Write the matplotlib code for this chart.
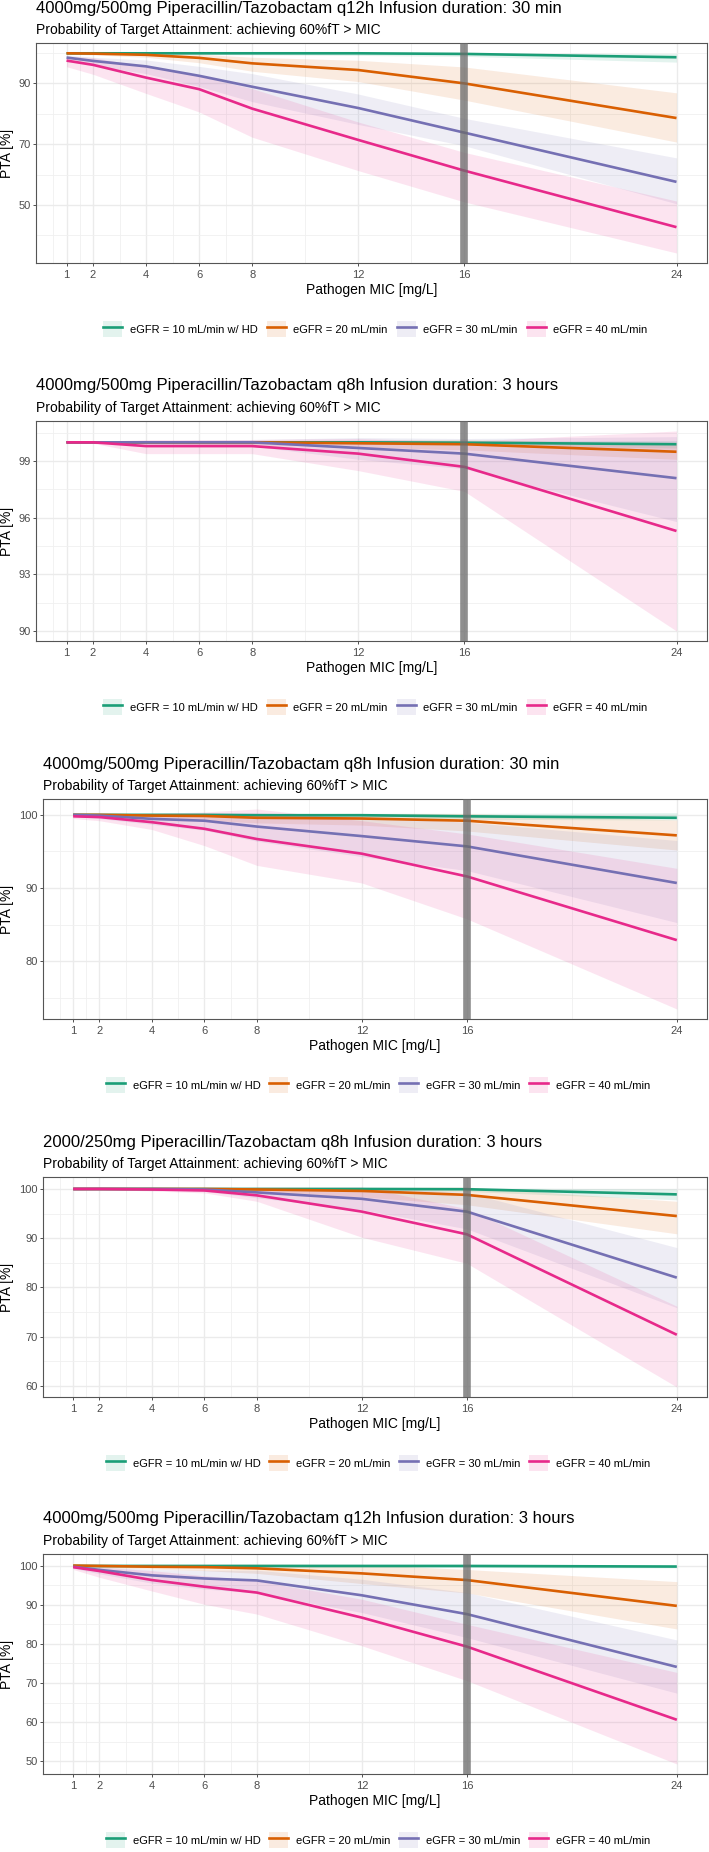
import numpy as np
import matplotlib.pyplot as plt
from matplotlib.patches import Patch
from matplotlib.lines import Line2D

plt.rcParams['font.family'] = ['Liberation Sans', 'DejaVu Sans']

#### PTA of piperacillin/tazobactam regimens by eGFR #####

mic = [1, 2, 4, 6, 8, 12, 16, 24]
breakpoint_mic = 16
labels = ['eGFR = 10 mL/min w/ HD', 'eGFR = 20 mL/min', 'eGFR = 30 mL/min', 'eGFR = 40 mL/min']
colors = ['#1B9E77', '#D95F02', '#7570B3', '#E7298A']
subtitle = 'Probability of Target Attainment: achieving 60%fT > MIC'

titles = ['4000mg/500mg Piperacillin/Tazobactam q12h Infusion duration: 30 min',
          '4000mg/500mg Piperacillin/Tazobactam q8h Infusion duration: 3 hours',
          '4000mg/500mg Piperacillin/Tazobactam q8h Infusion duration: 30 min',
          '2000/250mg Piperacillin/Tazobactam q8h Infusion duration: 3 hours',
          '4000mg/500mg Piperacillin/Tazobactam q12h Infusion duration: 3 hours']

# panel 1: q12h 30 min
p1_pta = [[99.9, 99.9, 99.9, 99.9, 99.9, 99.9, 99.7, 98.6],
          [99.9, 99.8, 99.4, 98.4, 96.6, 94.4, 90.0, 78.6],
          [98.5, 97.4, 95.6, 92.5, 88.9, 81.9, 73.8, 57.6],
          [97.5, 96.1, 91.9, 88.1, 81.7, 71.4, 61.3, 42.7]]
p1_low = [[99.6, 99.6, 99.6, 99.5, 99.4, 99.2, 98.9, 97.0],
          [99.6, 99.4, 98.6, 96.8, 94.0, 90.6, 84.5, 70.7],
          [97.6, 96.0, 93.2, 89.0, 84.0, 76.5, 69.5, 50.4],
          [95.5, 93.0, 86.7, 80.6, 72.3, 61.3, 51.0, 34.2]]
p1_high = [[100, 100, 100, 100, 100, 100, 100, 99.8],
           [100, 100, 99.9, 99.6, 98.6, 97.6, 95.4, 86.9],
           [99.3, 98.6, 97.7, 95.6, 93.2, 86.5, 78.5, 65.5],
           [99.0, 98.5, 95.5, 92.5, 88.3, 77.3, 67.3, 51.3]]

# panel 2: q8h 3 hours
p2_pta = [[100, 100, 100, 100, 100, 100, 99.98, 99.9],
          [100, 100, 100, 100, 100, 99.95, 99.9, 99.5],
          [100, 100, 100, 100, 100, 99.7, 99.4, 98.1],
          [100, 100, 99.8, 99.8, 99.8, 99.4, 98.7, 95.3]]
p2_low = [[99.98, 99.98, 99.97, 99.96, 99.95, 99.9, 99.85, 99.7],
          [99.98, 99.97, 99.95, 99.9, 99.88, 99.75, 99.6, 99.1],
          [99.98, 99.96, 99.9, 99.85, 99.8, 99.1, 98.6, 95.8],
          [99.97, 99.95, 99.4, 99.4, 99.4, 98.5, 97.4, 90.0]]
p2_high = [[100, 100, 100.02, 100.03, 100.04, 100.05, 100.08, 100.1],
           [100, 100.02, 100.04, 100.06, 100.08, 100.12, 100.15, 99.9],
           [100, 100.04, 100.08, 100.12, 100.15, 100.25, 100.2, 100.3],
           [100.03, 100.05, 100.15, 100.15, 100.15, 100.2, 100.05, 100.6]]

# panel 3: q8h 30 min
p3_pta = [[100, 100, 100, 100, 99.95, 99.95, 99.8, 99.6],
          [100, 100, 99.9, 99.85, 99.6, 99.5, 99.2, 97.2],
          [100, 99.9, 99.45, 99.2, 98.4, 97.1, 95.7, 90.7],
          [99.8, 99.7, 99.0, 98.1, 96.7, 94.7, 91.6, 82.9]]
p3_low = [[99.9, 99.9, 99.9, 99.85, 99.7, 99.6, 99.4, 99.3],
          [99.9, 99.8, 99.6, 99.3, 98.9, 98.6, 97.8, 95.2],
          [99.8, 99.5, 98.7, 97.9, 96.4, 94.3, 92.4, 85.3],
          [99.5, 99.2, 98.0, 95.8, 93.1, 90.7, 85.8, 73.5]]
p3_high = [[100.05, 100.05, 100.1, 100.1, 100.15, 100.2, 100.2, 100.3],
           [100.05, 100.1, 100.1, 100.15, 100.2, 100.2, 100.2, 99.3],
           [100.1, 100.15, 100.2, 100.3, 100.3, 99.7, 99.0, 96.5],
           [100.05, 100.1, 100.2, 100.4, 100.8, 99.2, 97.4, 92.7]]

# panel 4: 2000/250 q8h 3 hours
p4_pta = [[100, 100, 100, 100, 100, 100, 99.95, 98.9],
          [100, 100, 100, 100, 99.9, 99.6, 98.8, 94.5],
          [100, 100, 100, 99.9, 99.3, 98.0, 95.4, 82.0],
          [100, 100, 99.9, 99.7, 98.7, 95.4, 90.8, 70.4]]
p4_low = [[99.95, 99.95, 99.9, 99.9, 99.85, 99.7, 99.5, 97.8],
          [99.95, 99.9, 99.8, 99.6, 99.3, 98.4, 96.8, 90.9],
          [99.95, 99.9, 99.8, 99.5, 98.2, 95.8, 91.9, 75.9],
          [99.95, 99.9, 99.6, 99.2, 97.5, 90.2, 84.9, 59.8]]
p4_high = [[100.05, 100.05, 100.05, 100.1, 100.1, 100.15, 100.2, 100.0],
           [100.05, 100.05, 100.1, 100.2, 100.2, 100.3, 100.4, 97.5],
           [100.05, 100.05, 100.1, 100.2, 100.3, 100.3, 99.3, 88.1],
           [100.05, 100.1, 100.2, 100.3, 100.4, 100.4, 96.0, 76.2]]

# panel 5: q12h 3 hours
p5_pta = [[99.9, 99.9, 99.9, 99.9, 99.9, 99.9, 99.9, 99.75],
          [100, 99.9, 99.7, 99.6, 99.3, 98.0, 96.3, 89.7],
          [99.7, 98.9, 97.5, 96.7, 96.2, 92.4, 87.6, 74.1],
          [99.6, 98.6, 96.3, 94.6, 93.1, 86.7, 79.3, 60.6]]
p5_low = [[99.7, 99.7, 99.7, 99.7, 99.6, 99.6, 99.5, 99.4],
          [99.8, 99.5, 99.1, 98.7, 98.0, 95.4, 93.0, 83.8],
          [99.3, 97.9, 95.5, 94.0, 93.0, 88.0, 81.6, 67.4],
          [99.0, 97.0, 93.5, 90.1, 87.6, 79.5, 70.6, 49.3]]
p5_high = [[100, 100, 100, 100.05, 100.05, 100.05, 100.05, 100.0],
           [100.1, 100.2, 100.2, 100.3, 100.4, 100.3, 99.0, 95.9],
           [100.0, 99.6, 99.0, 98.8, 98.8, 96.5, 93.1, 81.0],
           [100.0, 99.6, 98.7, 97.4, 96.1, 91.4, 85.0, 72.7]]

y_major = [[50, 70, 90], [90, 93, 96, 99], [80, 90, 100],
           [60, 70, 80, 90, 100], [50, 60, 70, 80, 90, 100]]
y_minor = [[40, 60, 80, 100], [91.5, 94.5, 97.5, 100.5], [75, 85, 95],
           [65, 75, 85, 95], [55, 65, 75, 85, 95]]
x_minor = [0.5, 1.5, 3, 5, 7, 10, 14, 20]

panels = [(p1_pta, p1_low, p1_high), (p2_pta, p2_low, p2_high), (p3_pta, p3_low, p3_high),
          (p4_pta, p4_low, p4_high), (p5_pta, p5_low, p5_high)]

##### figure ##########

W, H = 709, 1852
fig = plt.figure(figsize=(W / 100, H / 100), dpi=100)

def box(left, top, width, height):
    return [left / W, 1 - (top + height) / H, width / W, height / H]

tops = [43, 421, 799, 1177, 1554]
lefts = [36, 36, 43, 43, 43]
right = 707
ph = 220

def expand(lo, hi):
    d = (hi - lo) * 0.05
    return lo - d, hi + d

for k, (pta, low, high) in enumerate(panels):
    left = lefts[k]
    top = tops[k]
    ax = fig.add_axes(box(left, top, right - left, ph))

    for i in range(4):
        ax.fill_between(mic, low[i], high[i], color=colors[i], alpha=0.12, lw=0, zorder=2)
    for i in range(4):
        ax.plot(mic, pta[i], color=colors[i], lw=1.9, solid_capstyle='butt', zorder=3)
    ax.axvline(breakpoint_mic, color='#6a6a6a', alpha=0.75, lw=5.5, zorder=4)

    ax.set_xlim(*expand(min(mic), max(mic)))
    ax.set_ylim(*expand(np.min(low), np.max(high)))

    ax.set_xticks(mic)
    ax.set_xticks(x_minor, minor=True)
    ax.set_yticks(y_major[k])
    ax.set_yticks(y_minor[k], minor=True)
    ax.set_yticklabels([str(v) for v in y_major[k]])

    ax.set_axisbelow(True)
    ax.grid(which='major', color='#EBEBEB', lw=1.0)
    ax.grid(which='minor', color='#F0F0F0', lw=0.6)
    ax.tick_params(which='minor', length=0)
    ax.tick_params(which='major', length=2.5, width=0.6, color='#333333',
                   labelsize=8, labelcolor='#4D4D4D', pad=1.5)
    ax.tick_params(axis='x', pad=2.2)
    for s in ax.spines.values():
        s.set_color('#555555')
        s.set_linewidth(0.8)

    ax.set_xlabel('Pathogen MIC [mg/L]', fontsize=10, labelpad=2.5)
    fig.text(7 / W, 1 - (top + ph / 2) / H, 'PTA [%]', rotation=90,
             ha='center', va='center', fontsize=10)

    ax.annotate(titles[k], xy=(0, 1), xycoords='axes fraction', xytext=(0, 25.2),
                textcoords='offset points', ha='left', va='center', fontsize=12)
    ax.annotate(subtitle, xy=(0, 1), xycoords='axes fraction', xytext=(0, 9.6),
                textcoords='offset points', ha='left', va='center', fontsize=10)

    handles = [(Patch(facecolor=c, alpha=0.12, edgecolor='none'),
                Line2D([], [], color=c, lw=1.9)) for c in colors]
    cx = 375.5 if k < 2 else 378
    cy = top + ph + 66
    fig.legend(handles, labels, loc='center', bbox_to_anchor=(cx / W, 1 - cy / H),
               ncol=4, frameon=False, fontsize=8, handlelength=1.7, handleheight=1.8,
               handletextpad=0.7, columnspacing=0.8, borderpad=0, borderaxespad=0)

plt.savefig('out.png', dpi=100)
